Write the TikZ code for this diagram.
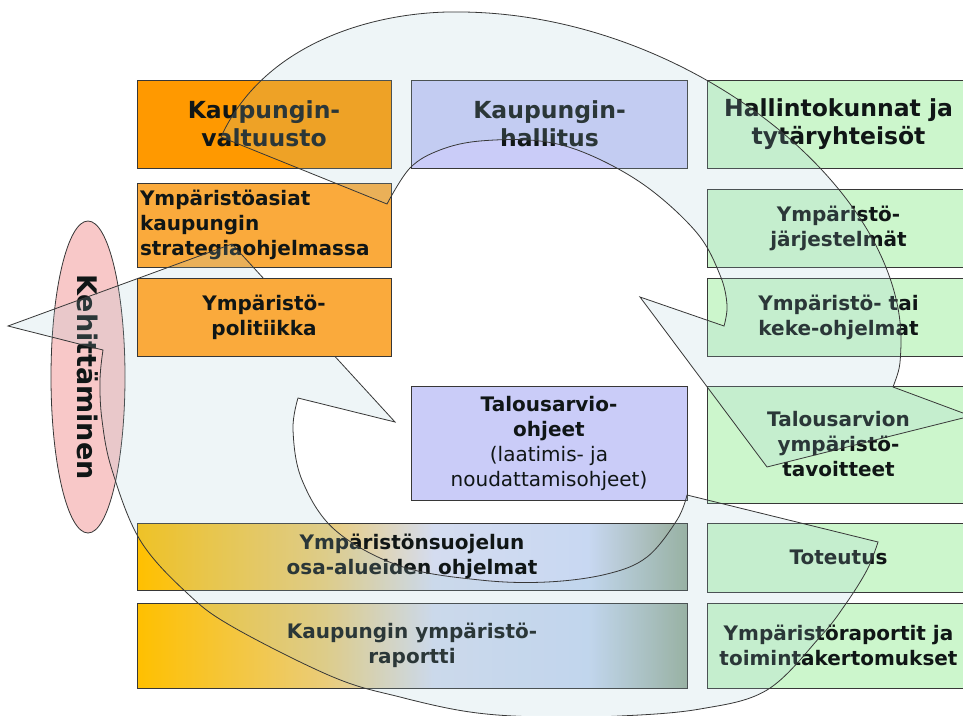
\documentclass[tikz,border=0pt]{standalone}
\usepackage{fontspec}
\setmainfont{DejaVu Sans}
\usetikzlibrary{shapes.geometric}
\definecolor{orangeA}{RGB}{255,153,0}
\definecolor{orangeB}{RGB}{250,170,60}
\definecolor{lav}{RGB}{202,204,248}
\definecolor{grn}{RGB}{204,246,204}
\definecolor{pinkE}{RGB}{248,200,200}
\definecolor{edge}{RGB}{55,55,55}
\definecolor{txt}{RGB}{16,22,22}
\definecolor{arrowfill}{RGB}{166,205,216}
\definecolor{ga}{RGB}{255,192,0}
\definecolor{gb}{RGB}{234,204,120}
\definecolor{gc}{RGB}{212,220,240}
\definecolor{gd}{RGB}{200,216,242}
\definecolor{ge}{RGB}{150,172,152}
\pgfdeclarehorizontalshading{botshade}{100bp}{color(0bp)=(ga); color(25bp)=(ga); color(42bp)=(gb); color(52bp)=(gc); color(66bp)=(gd); color(75bp)=(ge); color(100bp)=(ge)}
\tikzset{
  box/.style={draw=edge, line width=0.9pt, inner sep=3pt, align=center, text=txt,
    font=\bfseries\fontsize{20}{25}\selectfont},
  bigbox/.style={box, font=\bfseries\fontsize{23.5}{28}\selectfont},
  arr/.style={fill=arrowfill, fill opacity=0.18, draw=edge, line width=0.8pt, line join=miter}
}
\begin{document}
\begin{tikzpicture}[x=1pt,y=-1pt]
\useasboundingbox (0,0) rectangle (963,715);
\fill[white] (0,0) rectangle (963,715);
\clip (0,0) rectangle (963,715);

% row 1
\node[bigbox, fill=orangeA, minimum width=254pt, minimum height=88pt] (valt) at (264,124) {Kaupungin-\\valtuusto};
\node[bigbox, fill=lav, minimum width=276pt, minimum height=88pt] (hall) at (549.5,124) {Kaupungin-\\hallitus};
\node[bigbox, fill=grn, minimum width=263pt, minimum height=88pt] (hank) at (838.5,124) {Hallintokunnat ja\\tytäryhteisöt};
% row 2
\node[box, fill=orangeB, text width=248pt, align=left, minimum height=84pt] (strat) at (264,225) {Ympäristöasiat\\kaupungin\\strategiaohjelmassa};
\node[box, fill=grn, minimum width=263pt, minimum height=78pt] (jarj) at (838.5,228) {Ympäristö-\\järjestelmät};
% row 3
\node[box, fill=grn, minimum width=263pt, minimum height=78pt] (keke) at (838.5,317) {Ympäristö- tai\\keke-ohjelmat};
% row 4
\node[box, fill=lav, minimum width=276pt, minimum height=114pt] (taloh) at (549,443) {Talousarvio-\\ohjeet\\{\mdseries (laatimis- ja}\\{\mdseries noudattamisohjeet)}};
\node[box, fill=grn, minimum width=263pt, minimum height=117pt] (talt) at (838.5,444.5) {Talousarvion\\ympäristö-\\tavoitteet};
% row 5
\node[box, shading=botshade, minimum width=550pt, minimum height=67pt] (suoj) at (412,556.5) {Ympäristönsuojelun\\osa-alueiden ohjelmat};
\node[box, fill=grn, minimum width=263pt, minimum height=69pt] (tot) at (838.5,557.5) {Toteutus};
% row 6
\node[box, shading=botshade, minimum width=550pt, minimum height=85pt] (rap) at (412,645.5) {Kaupungin ympäristö-\\raportti};
\node[box, fill=grn, minimum width=263pt, minimum height=85pt] (rapt) at (838.5,645.5) {Ympäristöraportit ja\\toimintakertomukset};

% ellipse
\node[ellipse, rotate=-90, draw=edge, line width=0.8pt, fill=pinkE, minimum width=312pt, minimum height=74pt, inner sep=0pt, text=txt, font=\bfseries\fontsize{27}{27}\selectfont] (keh) at (88,377) {Kehittäminen};

% top arrow
\path[arr] (221,137) .. controls (265,40) and (380,10) .. (463,12)
  .. controls (690,15) and (905,190) .. (901,345)
  .. controls (900,368) .. (893,387)
  -- (971,416) -- (767,467) -- (640,297) -- (724,326)
  -- plot[smooth, tension=0.6] coordinates {(724,326) (727,305) (720,275) (697,233) (647,187) (590,155) (540,141) (480,141) (440,150) (410,168) (387,204)}
  -- cycle;

% bottom arrow
\path[arr] plot[smooth, tension=0.6] coordinates {(878,542) (867,570) (845,605) (820,637) (767,690) (700,709) (620,716) (540,717) (470,712) (400,697) (333,677) (233,627) (187,593) (140,540) (112,470) (102,420) (100,380) (103,350)}
  -- (8,326) -- (232,244) -- (395,422) -- (298,398)
  -- plot[smooth, tension=0.6] coordinates {(298,398) (293,430) (302,480) (335,530) (400,566) (480,580) (547,582) (607,574) (647,557) (677,520) (687,495)}
  -- cycle;

% box drawn above the arrows
\node[box, fill=orangeB, minimum width=254pt, minimum height=78pt] (polit) at (264,317) {Ympäristö-\\politiikka};
\end{tikzpicture}
\end{document}
